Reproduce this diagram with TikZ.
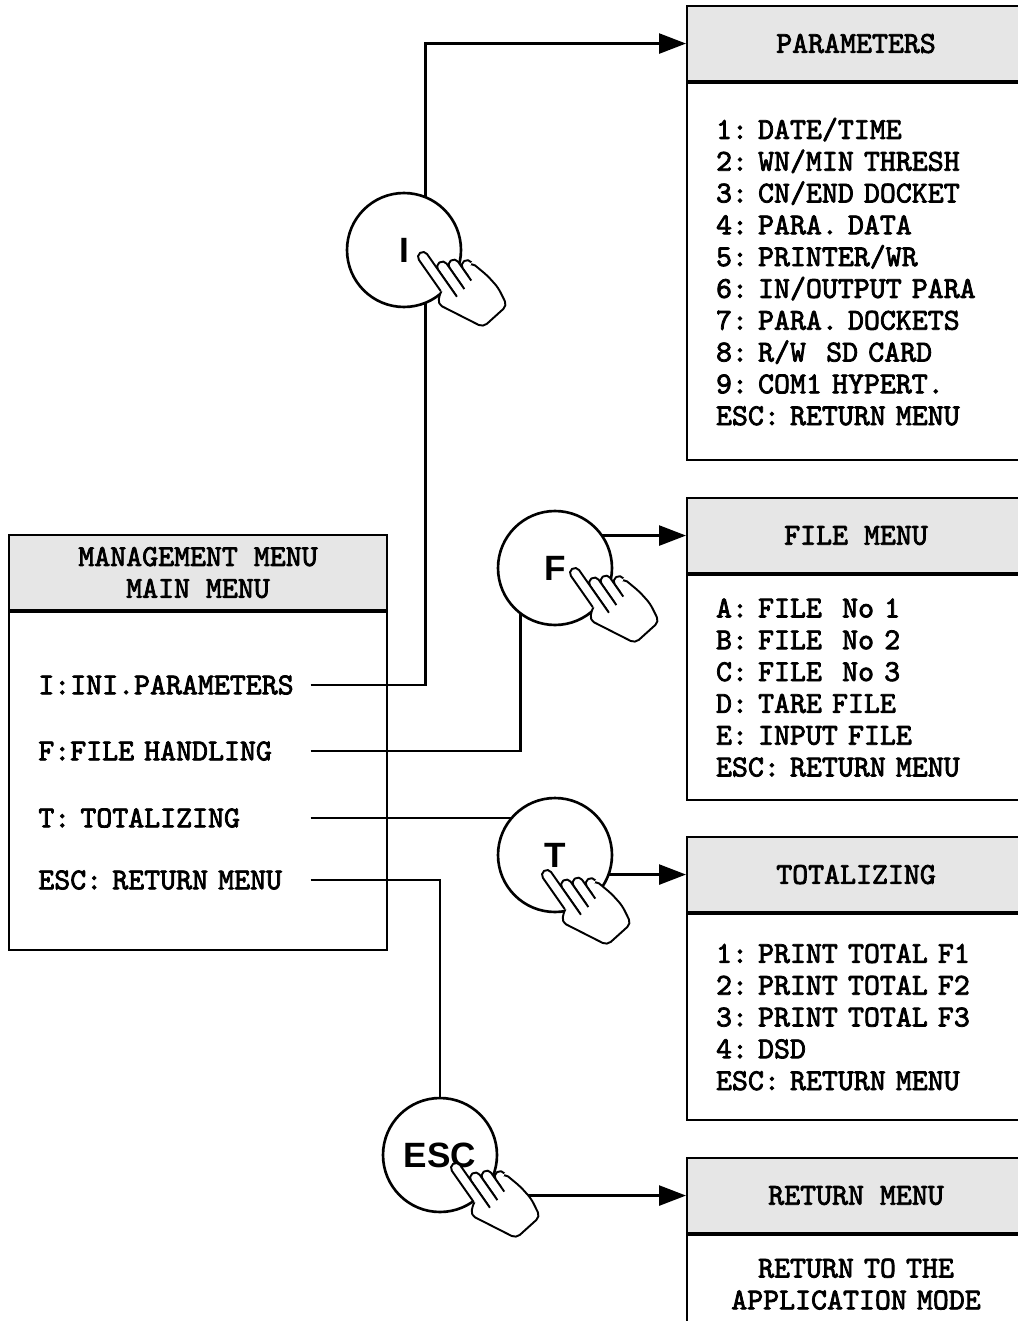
\documentclass[tikz,border=0pt]{standalone}
\usepackage{fontspec}
\usepackage{tikz}
\usetikzlibrary{arrows.meta,backgrounds}
\newfontfamily\menufont{lmmono10-regular.otf}[FakeBold=2.5]
\newfontfamily\keyfont{Liberation Sans}
\definecolor{headgray}{HTML}{E6E6E6}

\tikzset{
  menutext/.style={font=\menufont\fontsize{17.3}{18.1}\selectfont\frenchspacing},
  head/.style={draw, line width=1.2pt, fill=headgray, anchor=north west, inner sep=0pt,
    minimum width=6.76cm, minimum height=1.5cm, align=center, menutext},
  body/.style={draw, line width=1.2pt, anchor=north west, inner xsep=0.58cm, inner ysep=0pt,
    text width=5.6cm, align=left, menutext},
  item/.style={anchor=west, inner sep=0pt, text width=5.44cm, align=left, menutext},
  key/.style={circle, draw, fill=white, line width=1.5pt, minimum size=2.28cm, inner sep=0pt,
    font=\keyfont\bfseries\fontsize{20}{24}\selectfont},
  link/.style={line width=1.5pt},
  arr/.style={link, -{Triangle[length=5.4mm,width=4mm]}},
  hand/.pic={
    \begin{scope}[line width=1.1pt, line join=round, rounded corners=2.8pt]
    \draw[fill=white] (-5,38) -- (-15,47) -- (9,92) -- (41,88) -- (44,68) -- (42,52) -- (36.5,32) -- cycle;
    \draw[fill=white] (26,42) -- (26,27) -- (36.5,27) -- (36.5,32);
    \draw[fill=white] (15.5,47) -- (15.5,19) -- (26,19) -- (26,47);
    \draw[fill=white] (5,50) -- (5,14) -- (15.5,14) -- (15.5,50);
    \draw[fill=white] (-5,38) -- (-5,-5) -- (5,-5) -- (5,52);
    \end{scope}
  }
}

\begin{document}
\begin{tikzpicture}[x=0.02cm, y=-0.02cm]
\useasboundingbox (0,0) rectangle (1017,1321);

% main menu
\node[head, minimum width=7.56cm] (mainhead) at (8,534) {MANAGEMENT MENU\\MAIN MENU};
\node[draw, line width=1.2pt, anchor=north west, minimum width=7.56cm, minimum height=6.76cm] (mainbody) at (mainhead.south west) {};
\node[item] (itemI) at (38,685) {I:INI.PARAMETERS};
\node[item] (itemF) at (38,751) {F:FILE HANDLING};
\node[item] (itemT) at (38,818) {T: TOTALIZING};
\node[item] (itemE) at (38,880) {ESC: RETURN MENU};

% sub menus
\node[head] (parhead) at (686,5) {PARAMETERS};
\node[body, minimum height=7.54cm] (parbody) at (parhead.south west)
  {1: DATE/TIME\\2: WN/MIN THRESH\\3: CN/END DOCKET\\4: PARA. DATA\\5: PRINTER/WR\\
   6: IN/OUTPUT PARA\\7: PARA. DOCKETS\\8: R/W\ \ SD CARD\\9: COM1 HYPERT.\\ESC: RETURN MENU};

\node[head] (filehead) at (686,497) {FILE MENU};
\node[body, minimum height=4.5cm] (filebody) at (filehead.south west)
  {A: FILE\ \ No 1\\B: FILE\ \ No 2\\C: FILE\ \ No 3\\D: TARE FILE\\E: INPUT FILE\\ESC: RETURN MENU};

\node[head] (tothead) at (686,836) {TOTALIZING};
\node[body, minimum height=4.12cm] (totbody) at (tothead.south west)
  {1: PRINT TOTAL F1\\2: PRINT TOTAL F2\\3: PRINT TOTAL F3\\4: DSD\\ESC: RETURN MENU};

\node[head] (rethead) at (686,1157) {RETURN MENU};
\node[body, align=center, minimum height=1.96cm] (retbody) at (rethead.south west)
  {RETURN TO THE\\APPLICATION MODE};

% keys
\node[key] (cI) at (404,250) {I};
\node[key] (cF) at (555,568) {F};
\node[key] (cT) at (555,855) {T};
\node[key] (cE) at (440,1155) {ESC};

\begin{scope}[on background layer]
\draw[arr] (itemI.east) -- ++(115,0) |- (parhead.west);
\draw[link] (itemF.east) -- ++(210,0) |- (cF);
\draw[arr] (cF |- filehead.west) -- (filehead.west);
\draw[link] (itemT.east) -- (itemT.east -| cT);
\draw[arr] (cT |- tothead.west) -- (tothead.west);
\draw[link] (itemE.east) -| (cE);
\draw[arr] (cE |- rethead.west) -- (rethead.west);
\end{scope}

% hands
\pic[rotate=35] at ([shift={(19,7)}]cI) {hand};
\pic[rotate=35] at ([shift={(20,5)}]cF) {hand};
\pic[rotate=35] at ([shift={(-8,20)}]cT) {hand};
\pic[rotate=35] at ([shift={(16,13)}]cE) {hand};
\end{tikzpicture}
\end{document}
